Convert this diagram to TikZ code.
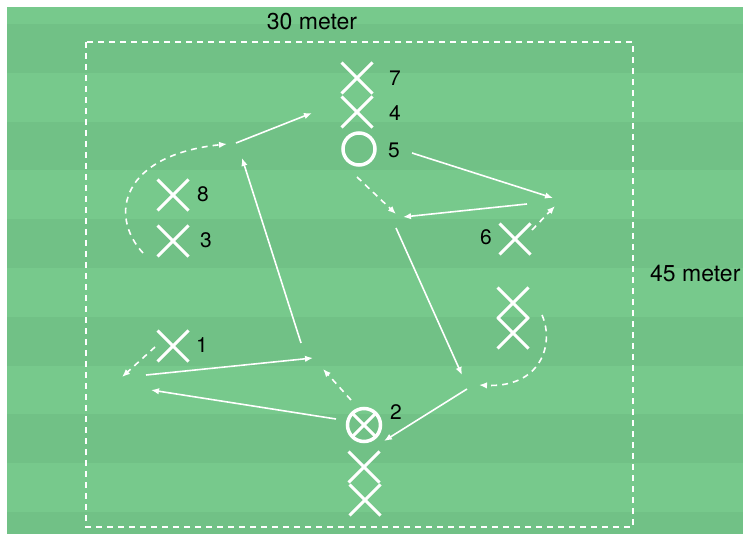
\documentclass[tikz,border=0pt]{standalone}
\usepackage{fontspec}
\setmainfont{TeX Gyre Heros}
\usetikzlibrary{calc,shapes.misc,arrows.meta}
\definecolor{grasslight}{RGB}{119,201,140}
\definecolor{grassdark}{RGB}{113,193,134}

\begin{document}
\begin{tikzpicture}[x=1pt,y=-1pt,
		player/.style={cross out,draw=white,line width=3pt,minimum size=28pt,inner sep=0pt},
		ball/.style={circle,draw=white,line width=3.5pt,minimum size=32pt,inner sep=0pt},
		ballx/.style={ball,minimum size=33pt,path picture={
				\draw[white,line width=3pt] (path picture bounding box.north west)--(path picture bounding box.south east);
				\draw[white,line width=3pt] (path picture bounding box.south west)--(path picture bounding box.north east);}},
		num/.style={font=\fontsize{21}{25}\selectfont,text=black,inner sep=0pt},
		dist/.style={font=\fontsize{23}{27}\selectfont,text=black,inner sep=0pt},
		pass/.style={white,line width=1.6pt,-{Latex[length=8pt,width=6.5pt]}},
		move/.style={pass,dash pattern=on 6pt off 5pt}]
	\useasboundingbox (0,0) rectangle (743,534);
	\fill[white] (0,0) rectangle (743,534);
	\begin{scope}
		\clip (7,7) rectangle (743,534);
		\fill[grasslight] (7,7) rectangle (743,534);
		\foreach \k in {0,...,5}
		\fill[grassdark] (7,{24+97.6*\k}) rectangle (743,{72.8+97.6*\k});
	\end{scope}
	\draw[white,line width=2pt,dash pattern=on 6pt off 5pt] (86,42) rectangle (633,527);
	\node[dist] (w) at (312,22) {30 meter};
	\node[dist,anchor=west] (h) at (650,274) {45 meter};
	
	\node[player] (p7) at (357,78) {};
	\node[player] (p4) at (357,112) {};
	\node[ball] (p5) at (359,149) {};
	\node[player] (p8) at (173,195) {};
	\node[player] (p3) at (173,241) {};
	\node[player] (p6) at (515,239) {};
	\node[player] (q1) at (513,303) {};
	\node[player] (q2) at (513,333) {};
	\node[player] (p1) at (173,346) {};
	\node[ballx] (p2) at (364,425) {};
	\node[player] (r1) at (364,467) {};
	\node[player] (r2) at (365,500) {};
	
	\node[num] (l7) at (395,78) {7};
	\node[num] (l4) at (395,113) {4};
	\node[num] (l5) at (394,150) {5};
	\node[num] (l8) at (203,194) {8};
	\node[num] (l3) at (206,240) {3};
	\node[num] (l6) at (486,237) {6};
	\node[num] (l1) at (202,345) {1};
	\node[num] (l2) at (396,412) {2};
	
	\coordinate (A) at (143,253);
	\coordinate (B) at (227,144);
	\coordinate (C) at (236,143);
	\coordinate (D) at (312,113);
	\coordinate (E) at (301,343);
	\coordinate (F) at (242,158);
	\coordinate (G) at (412,153);
	\coordinate (H) at (553,198);
	\coordinate (I) at (527,204);
	\coordinate (J) at (403,217);
	\coordinate (K) at (357,177);
	\coordinate (L) at (396,214);
	\coordinate (M) at (532,230);
	\coordinate (N) at (555,206);
	\coordinate (P) at (396,228);
	\coordinate (Q) at (462,375);
	\coordinate (R) at (542,315);
	\coordinate (S) at (479,385);
	\coordinate (T) at (467,389);
	\coordinate (U) at (384,441);
	\coordinate (V) at (336,419);
	\coordinate (W) at (151,390);
	\coordinate (X) at (351,400);
	\coordinate (Y) at (323,369);
	\coordinate (Z) at (146,375);
	\coordinate (Z1) at (313,358);
	\coordinate (Z2) at (155,347);
	\coordinate (Z3) at (122,377);
	
	\draw[move] (A) .. controls (108,215) and (122,155) .. (B);
	\draw[pass] (C)--(D);
	\draw[pass] (E)--(F);
	\draw[pass] (G)--(H);
	\draw[pass] (I)--(J);
	\draw[move] (K)--(L);
	\draw[move] (M)--(N);
	\draw[pass] (P)--(Q);
	\draw[move] (R) .. controls (555,345) and (540,388) .. (S);
	\draw[pass] (T)--(U);
	\draw[pass] (V)--(W);
	\draw[move] (X)--(Y);
	\draw[pass] (Z)--(Z1);
	\draw[move] (Z2)--(Z3);
\end{tikzpicture}
\end{document}
